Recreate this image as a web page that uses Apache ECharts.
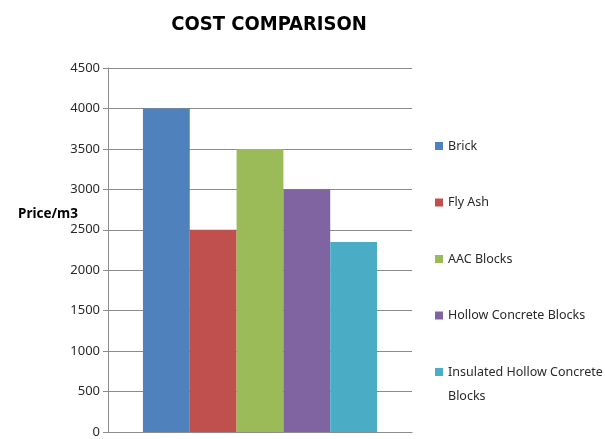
<!DOCTYPE html>
<html><head><meta charset="utf-8">
<script src="https://cdn.jsdelivr.net/npm/echarts@6/dist/echarts.min.js"></script>
<style>html,body{margin:0;padding:0;background:#fff}#c{width:605px;height:439px}</style>
</head><body><div id="c"></div>
<script>
const categories = ['Cost'];
const seriesNames = ['Brick', 'Fly Ash', 'AAC Blocks', 'Hollow Concrete Blocks', 'Insulated Hollow Concrete Blocks'];
const seriesValues = [4000, 2500, 3500, 3000, 2350];
const colors = ['#4F81BD', '#C0504D', '#9BBB59', '#8064A2', '#4BACC6'];
const yTicks = { min: 0, max: 4500, interval: 500 };

const chart = echarts.init(document.getElementById('c'));
const series = seriesNames.map((n, i) => ({
  name: n, type: 'bar', data: [seriesValues[i]],
  barGap: '0%', barCategoryGap: '23%',
  itemStyle: { color: colors[i] }
}));
const legendText = { fontFamily: 'Noto Sans', fontSize: 12.5, color: '#2a2a2a', lineHeight: 14 };
chart.setOption({
  animation: false,
  title: [
    { text: 'COST COMPARISON', left: 264, textAlign: 'center', top: 10,
      textStyle: { fontFamily: "'Liberation Sans Narrow', 'DejaVu Sans Condensed', sans-serif", fontWeight: 'bold', fontSize: 20, color: '#000' } },
    { text: 'Price/m3', left: 13, top: 202,
      textStyle: { fontFamily: 'Noto Sans', fontWeight: 'bold', fontSize: 13.5, color: '#000' } }
  ],
  grid: { left: 108, right: 193, top: 68, bottom: 7 },
  legend: [
    { data: seriesNames.slice(0, 4), orient: 'vertical', left: 435, top: 139, padding: 0,
      itemWidth: 8, itemHeight: 8, itemGap: 42.5, icon: 'rect', textStyle: legendText },
    { data: [{ name: seriesNames[4], textStyle: { lineHeight: 24 } }],
      orient: 'vertical', left: 435, top: 336, padding: 0,
      itemWidth: 8, itemHeight: 8, icon: 'rect', textStyle: legendText,
      formatter: n => '\n' + n.replace('Concrete Blocks', 'Concrete\nBlocks') }
  ],
  xAxis: { type: 'category', data: categories,
    axisLine: { lineStyle: { color: '#8c8c8c' } }, axisTick: { show: false }, axisLabel: { show: false } },
  yAxis: { type: 'value', min: yTicks.min, max: yTicks.max, interval: yTicks.interval,
    axisLine: { show: true, lineStyle: { color: '#8c8c8c' } },
    axisTick: { show: true, length: 5, lineStyle: { color: '#8c8c8c' } },
    axisLabel: { margin: 8, fontFamily: 'Noto Sans', fontSize: 13, color: '#2a2a2a', formatter: v => String(v) },
    splitLine: { lineStyle: { color: '#8c8c8c' } } },
  series
});
</script></body></html>
